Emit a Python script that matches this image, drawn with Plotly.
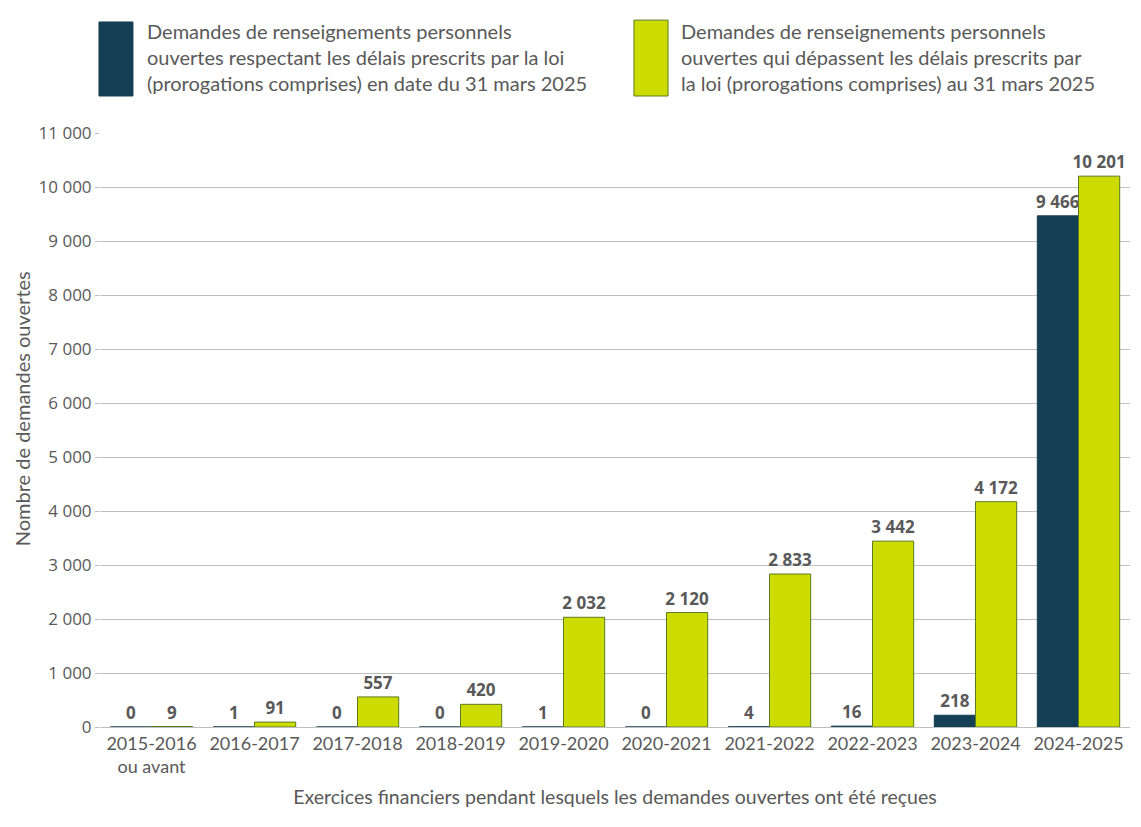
import plotly.graph_objects as go

categories = ["2015-2016<br>ou avant", "2016-2017", "2017-2018", "2018-2019", "2019-2020",
              "2020-2021", "2021-2022", "2022-2023", "2023-2024", "2024-2025"]
within_limits = [0, 1, 0, 0, 1, 0, 4, 16, 218, 9466]
beyond_limits = [9, 91, 557, 420, 2032, 2120, 2833, 3442, 4172, 10201]
series_names = [
    "Demandes de renseignements personnels<br>ouvertes respectant les délais prescrits par la loi<br>(prorogations comprises) en date du 31 mars 2025",
    "Demandes de renseignements personnels<br>ouvertes qui dépassent les délais prescrits par<br>la loi (prorogations comprises) au 31 mars 2025",
]
y_ticks = list(range(0, 11001, 1000))

DARK = "#143F55"
GREEN = "#CCDC00"
GREEN_LINE = "#5B7B1E"
GREY = "#595959"
FONT = "Lato"
NUMFONT = "Open Sans"

fig = go.Figure()
for vals, name, col, lc in [(within_limits, series_names[0], DARK, DARK),
                            (beyond_limits, series_names[1], GREEN, GREEN_LINE)]:
    fig.add_trace(go.Bar(
        x=categories, y=vals, name=name,
        marker=dict(color=col, line=dict(color=lc, width=1)),
        texttemplate="%{y:,d}", textposition="outside", cliponaxis=False,
        constraintext="none",
        textfont=dict(family=NUMFONT, size=17, color=GREY, weight="bold"),
    ))

# custom legend (large swatches)
legend_items = [(-0.001, 0.032, 1.0623, 1.1869, DARK, DARK, 0.0435),
                (0.5184, 0.5515, 1.0623, 1.19, GREEN, GREEN_LINE, 0.5625)]
for (x0, x1, y0, y1, col, lc, tx), name in zip(legend_items, series_names):
    fig.add_shape(type="rect", xref="paper", yref="paper",
                  x0=x0, x1=x1, y0=y0, y1=y1,
                  fillcolor=col, line=dict(color=lc, width=1))
    fig.add_annotation(xref="paper", yref="paper", x=tx, y=1.195,
                       xanchor="left", yanchor="top", text=name, showarrow=False,
                       align="left", font=dict(family=FONT, size=20, color=GREY))

fig.add_annotation(xref="paper", yref="paper", x=0, xshift=-78, y=0.535,
                   xanchor="center", yanchor="middle", textangle=-90,
                   text="Nombre de demandes ouvertes", showarrow=False,
                   font=dict(family=FONT, size=20, color=GREY))

fig.update_layout(
    width=1141, height=827,
    margin=dict(l=92, r=19, t=125, b=108),
    paper_bgcolor="white", plot_bgcolor="white",
    separators=", ",
    barmode="group", bargap=0.2, bargroupgap=0,
    showlegend=False,
    font=dict(family=FONT, color=GREY),
    xaxis=dict(
        tickfont=dict(family=FONT, size=18, color=GREY),
        showline=True, linecolor="#BFBFBF", linewidth=1,
        title=dict(text="Exercices financiers pendant lesquels les demandes ouvertes ont été reçues",
                   font=dict(family=FONT, size=19.5, color=GREY), standoff=14),
    ),
    yaxis=dict(
        range=[0, 11000], tickvals=y_ticks, tickformat=",d",
        tickfont=dict(family=NUMFONT, size=17, color=GREY),
        showgrid=True, gridcolor="#BFBFBF", gridwidth=1,
        ticks="outside", ticklen=4, tickcolor="#BFBFBF",
        zeroline=False,
    ),
)

fig.write_html("out.html")
